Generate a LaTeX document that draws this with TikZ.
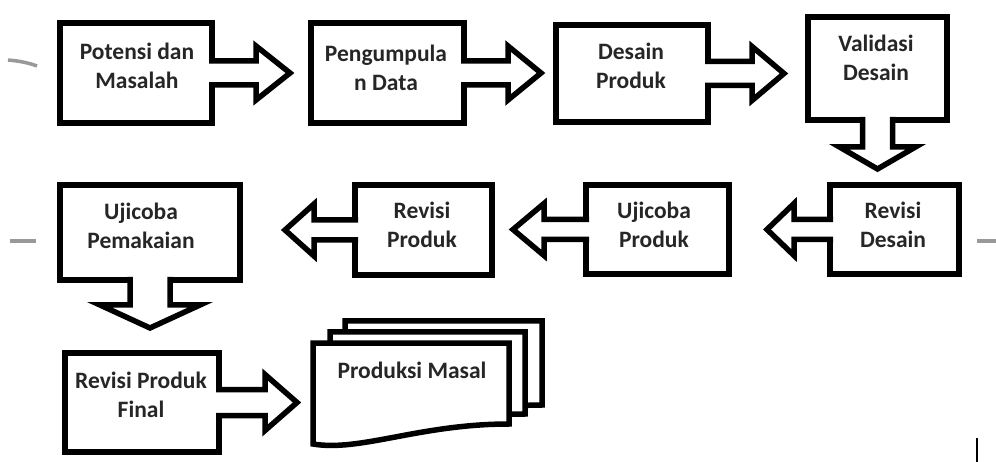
\documentclass[tikz,border=0pt]{standalone}
\usepackage{fontspec}
\setmainfont{Carlito}
\usetikzlibrary{calc}
% horizontal block arrow: #1 edge, #2 dir (1/-1), #3 shaft len, #4 head len, #5 shaft half, #6 head half
\newcommand\harr[6]{%
  \filldraw[blk] ($(#1)+({(#2)*(-3)},{-(#5)})$) -- ++({(#2)*(#3+3)},0) -- ++(0,{-(#6-#5)})
    -- ++({(#2)*(#4)},#6) -- ++({(#2)*(-1)*(#4)},#6) -- ++(0,{-(#6-#5)}) -- ++({(#2)*(-1)*(#3+3)},0);}
% downward block arrow: #1 edge, #2 shaft len, #3 head len, #4 shaft half, #5 head half
\newcommand\varr[5]{%
  \filldraw[blk] ($(#1)+({-(#4)},-3)$) -- ++(0,{#2+3}) -- ++({-(#5-#4)},0)
    -- ++(#5,#3) -- ++(#5,{-(#3)}) -- ++({-(#5-#4)},0) -- ++(0,{-(#2+3)});}
\begin{document}
\begin{tikzpicture}[x=1pt,y=-1pt,
  box/.style={draw=black,line width=5.5pt,fill=white,outer sep=0pt,inner sep=0pt,line join=miter},
  blk/.style={draw=black,line width=5.5pt,fill=white,line join=miter},
  txt/.style={align=center,inner sep=0pt,font=\fontsize{23.5}{29}\selectfont\bfseries,text=black!85},
  art/.style={draw=black!40,line width=3.5pt}]
\useasboundingbox[fill=white] (0,0) rectangle (996,462);

% boxes
\node[box,minimum width=152pt,minimum height=100pt] (b1) at (136,73) {};
\node[box,minimum width=153pt,minimum height=100pt] (b2) at (387.5,73) {};
\node[box,minimum width=152pt,minimum height=97pt]  (b3) at (632,73.5) {};
\node[box,minimum width=139pt,minimum height=103pt] (b4) at (877.5,68.5) {};
\node[box,minimum width=129pt,minimum height=89pt]  (b5) at (894.5,229.5) {};
\node[box,minimum width=143pt,minimum height=89pt]  (b6) at (657.5,229.5) {};
\node[box,minimum width=137pt,minimum height=90pt]  (b7) at (423.5,230) {};
\node[box,minimum width=180pt,minimum height=95pt]  (b8) at (150,232.5) {};
\node[box,minimum width=154pt,minimum height=99pt]  (b9) at (142,402.5) {};

% block arrows
\harr{b1.east}{1}{44}{34}{12}{27}
\harr{b2.east}{1}{44}{33}{12}{27}
\harr{b3.east}{1}{44}{32}{12}{27}
\varr{b4.south}{27}{22}{15}{38}
\harr{b5.west}{-1}{36}{27}{10}{26}
\harr{b6.west}{-1}{42}{31}{10}{26}
\harr{b7.west}{-1}{41}{29}{10}{26}
\varr{b8.south}{25}{23}{20}{50}
\harr{b9.east}{1}{46}{32}{13}{28}

% multi-document
\filldraw[blk] (345,321) -- (542,321) -- (542,405) .. controls (470,405) and (410,428) .. (345,424) -- cycle;
\filldraw[blk] (330,332) -- (525,332) -- (525,414) .. controls (450,414) and (390,440) .. (330,434) -- cycle;
\filldraw[blk] (313,343) -- (509,343) -- (509,424) .. controls (420,424) and (360,452) .. (313,444) -- cycle;

% texts
\node[txt] (t1) at (137,66) {Potensi dan\\Masalah};
\node[txt] (t2) at (386,67.5) {Pengumpula\\n Data};
\node[txt] (t3) at (631,66) {Desain\\Produk};
\node[txt] (t4) at (876,58) {Validasi\\Desain};
\node[txt] (t5) at (893,225) {Revisi\\Desain};
\node[txt] (t6) at (654,225) {Ujicoba\\Produk};
\node[txt] (t7) at (422,225) {Revisi\\Produk};
\node[txt] (t8) at (141,226) {Ujicoba\\Pemakaian};
\node[txt] (t9) at (141,395) {Revisi Produk\\Final};
\node[txt] (t10) at (412,370) {Produksi Masal};

% stray marks
\draw[art] (8,60) .. controls (20,61) and (29,63) .. (37,66);
\draw[art] (10,241) -- (36,241);
\draw[art] (977,241) -- (996,241);
\draw[black,line width=2pt] (977,438) -- (977,462);
\end{tikzpicture}
\end{document}
